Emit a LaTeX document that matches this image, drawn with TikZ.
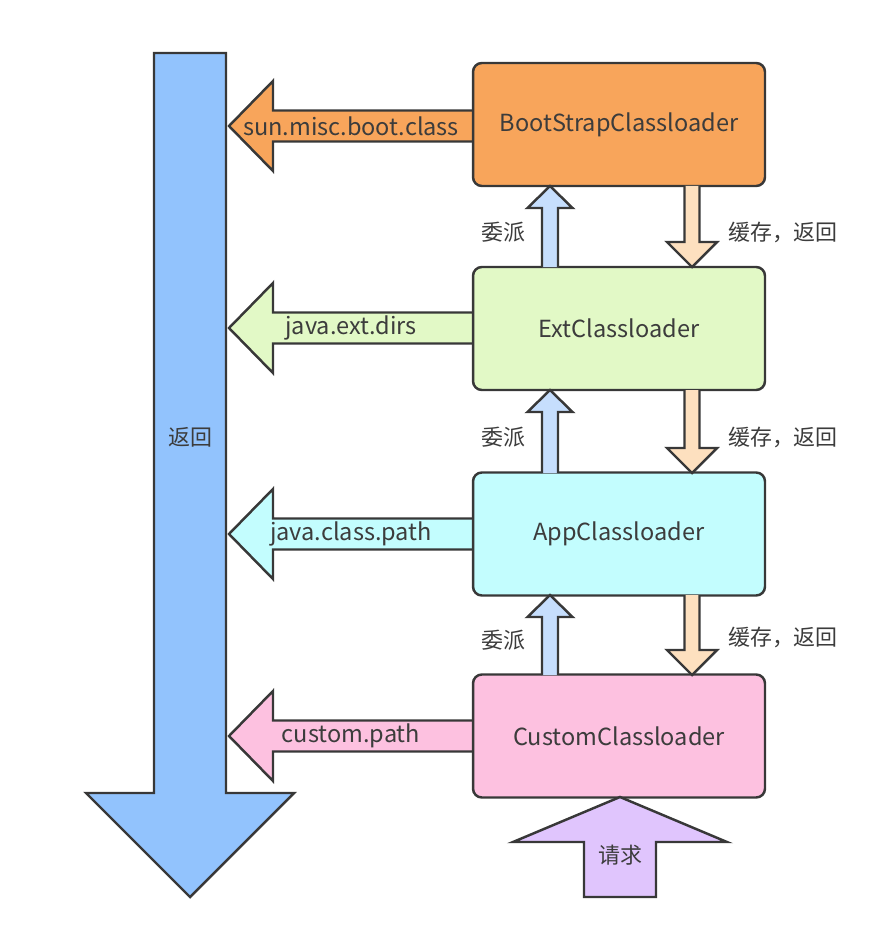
\documentclass[tikz,border=0pt]{standalone}
\usepackage{fontspec}
\setmainfont{Noto Sans CJK SC}
\usepackage{tikz}
\usetikzlibrary{shapes.geometric, arrows}

\definecolor{bootOrange}{HTML}{F8A55B}
\definecolor{extGreen}{HTML}{E2F9C6}
\definecolor{appCyan}{HTML}{C3FDFE}
\definecolor{customPink}{HTML}{FDC1E0}
\definecolor{returnBlue}{HTML}{92C3FD}
\definecolor{delegBlue}{HTML}{C6DEFD}
\definecolor{cachePeach}{HTML}{FDE0BF}
\definecolor{requestPurple}{HTML}{E0C5FD}
\definecolor{lineGray}{HTML}{383838}
\definecolor{textGray}{HTML}{3C3C3C}

\begin{document}
\begin{tikzpicture}[x=0.02cm, y=-0.02cm]
		\tikzstyle{Loader} = [rectangle, rounded corners=5pt, minimum width=5.84cm, minimum height=2.46cm, text centered, draw=lineGray, line width=1.4pt, text=textGray, font=\fontsize{13.4}{15}\selectfont]
		\tikzstyle{BlockArrow} = [draw=lineGray, line width=1.4pt, line join=miter]
		\tikzstyle{Label} = [text=textGray, font=\fontsize{12.5}{14}\selectfont, inner sep=0pt]
		\tikzstyle{PathLabel} = [text=textGray, font=\fontsize{13.4}{15}\selectfont, inner sep=0pt]
		
		\useasboundingbox (0,0) rectangle (882,929);
		
		% big return arrow
		\draw [BlockArrow, fill=returnBlue] (154,53) -- (226,53) -- (226,793) -- (294,793) -- (190,897) -- (86,793) -- (154,793) -- cycle;
		\node (returnLabel) [Label] at (190,437) {返回};
		
		% paths to the return arrow
		\draw [BlockArrow, fill=bootOrange] (476,110.5) -- (273,110.5) -- (273,81) -- (229,126) -- (273,171) -- (273,141.5) -- (476,141.5);
		\draw [BlockArrow, fill=extGreen] (476,312.5) -- (273,312.5) -- (273,283) -- (229,328) -- (273,373) -- (273,343.5) -- (476,343.5);
		\draw [BlockArrow, fill=appCyan] (476,518.5) -- (273,518.5) -- (273,489) -- (229,534) -- (273,579) -- (273,549.5) -- (476,549.5);
		\draw [BlockArrow, fill=customPink] (476,720.5) -- (273,720.5) -- (273,691) -- (229,736) -- (273,781) -- (273,751.5) -- (476,751.5);
		\node (bootPath) [PathLabel] at (351,126) {sun.misc.boot.class};
		\node (extPath) [PathLabel] at (351,328) {java.ext.dirs};
		\node (appPath) [PathLabel] at (351,534) {java.class.path};
		\node (customPath) [PathLabel] at (351,736) {custom.path};
		
		% loaders
		\node (bootNode) [Loader, fill=bootOrange] at (619,124.5) {BootStrapClassloader};
		\node (extNode) [Loader, fill=extGreen] at (619,328.5) {ExtClassloader};
		\node (appNode) [Loader, fill=appCyan] at (619,534) {AppClassloader};
		\node (customNode) [Loader, fill=customPink] at (619,736) {CustomClassloader};
		
		% delegate up
		\draw [BlockArrow, fill=delegBlue] (542,267) -- (542,208) -- (527.5,208) -- (550,186) -- (572.5,208) -- (558,208) -- (558,267);
		\draw [BlockArrow, fill=delegBlue] (542,473) -- (542,412) -- (527.5,412) -- (550,390) -- (572.5,412) -- (558,412) -- (558,473);
		\draw [BlockArrow, fill=delegBlue] (542,675) -- (542,617) -- (527.5,617) -- (550,595) -- (572.5,617) -- (558,617) -- (558,675);
		\node (deleg1) [Label] at (503,232) {委派};
		\node (deleg2) [Label] at (503,437) {委派};
		\node (deleg3) [Label] at (503,640) {委派};
		
		% cache, return down
		\draw [BlockArrow, fill=cachePeach] (684.5,186) -- (684.5,242) -- (667,242) -- (692,267) -- (717,242) -- (699.5,242) -- (699.5,186);
		\draw [BlockArrow, fill=cachePeach] (684.5,390) -- (684.5,448) -- (667,448) -- (692,473) -- (717,448) -- (699.5,448) -- (699.5,390);
		\draw [BlockArrow, fill=cachePeach] (684.5,595) -- (684.5,650) -- (667,650) -- (692,675) -- (717,650) -- (699.5,650) -- (699.5,595);
		\node (cache1) [Label] at (783,232) {缓存，返回};
		\node (cache2) [Label] at (783,437) {缓存，返回};
		\node (cache3) [Label] at (783,637) {缓存，返回};
		
		% request
		\draw [BlockArrow, fill=requestPurple] (584,897) -- (584,842) -- (513,842) -- (620,797) -- (727,842) -- (656,842) -- (656,897) -- cycle;
		\node (requestLabel) [Label] at (620,855) {请求};
\end{tikzpicture}
\end{document}
